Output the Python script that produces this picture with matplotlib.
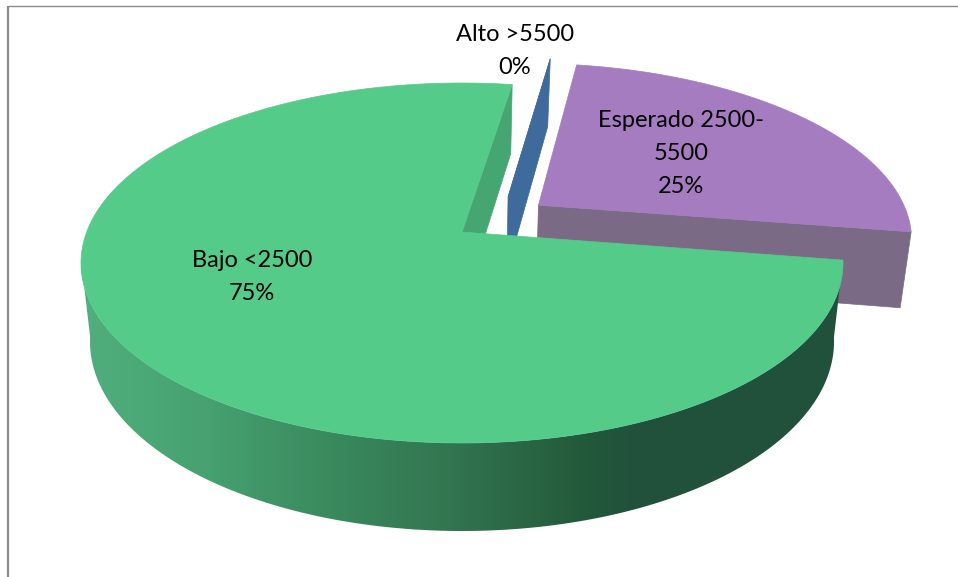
import numpy as np
import matplotlib.pyplot as plt
from matplotlib.colors import LinearSegmentedColormap
from matplotlib.patches import Polygon

labels = ['Bajo <2500', 'Esperado 2500-\n5500', 'Alto >5500']
values = [75, 25, 0]
top_colors = ['#55CB8A', '#A47CBF', '#3F6A9C']
wall_colors = ['#46A672', '#7B6A86', '#3F6A9C']

# pie plane seen in perspective: top and bottom ellipse, centre shift
start_angle = 81
top_plane = (462, 263, 381, 180, 0.172)
bottom_plane = (462, 341.5, 372, 189.5, 0.177)
# explode distance and direction per slice, in disk units
explode = [0, 0.262, 0.244]
explode_dir = [0, 37, 58.6]
label_pos = [(252, 277), (681, 153.5), (515, 51)]


def project(x, y, plane):
    cx, cy, rx, ry, e = plane
    d = 1 + e * y
    return cx + rx * x * np.sqrt(1 - e ** 2) / d, cy - ry * (y + e) / d


def slice_disk(a0, a1, off, n=400):
    t = np.radians(np.linspace(a0, a1, n))
    x = np.concatenate([[0], np.cos(t)]) + off[0]
    y = np.concatenate([[0], np.sin(t)]) + off[1]
    return x, y


fig = plt.figure(figsize=(9.58, 5.77), dpi=100)
ax = fig.add_axes([0, 0, 1, 1])
ax.axis('off')

# chart frame, only left and top show
ax.plot([8, 8], [577, 5.5], color='#8A8A8A', lw=1.6, solid_capstyle='butt')
ax.plot([8, 958], [5.5, 5.5], color='#8A8A8A', lw=1.0, solid_capstyle='butt')

side_cmap = LinearSegmentedColormap.from_list(
    'side', [(0, '#4FAE7C'), (0.154, '#47A171'), (0.32, '#3A8A5E'),
             (0.49, '#32744F'), (0.66, '#235A3B'), (0.725, '#21513A'), (1, '#21513A')])

# angles of each slice, counter clockwise from the start angle
angles = []
a = start_angle
for v in values:
    angles.append((a, a + v * 3.6))
    a += v * 3.6

offsets = []
for m, d in zip(explode, explode_dir):
    offsets.append((m * np.cos(np.radians(d)), m * np.sin(np.radians(d))))

# draw back to front: esperado, alto, bajo
for i in [1, 2, 0]:
    a0, a1 = angles[i]
    off = offsets[i]
    x, y = slice_disk(a0, a1, off)
    # the wall along the first radial edge
    ex = np.array([0, np.cos(np.radians(a0))]) + off[0]
    ey = np.array([0, np.sin(np.radians(a0))]) + off[1]
    tx, ty = project(ex, ey, top_plane)
    bx, by = project(ex, ey, bottom_plane)
    wall = np.column_stack([[tx[0], tx[1], bx[1], bx[0]], [ty[0], ty[1], by[1], by[0]]])
    ax.add_patch(Polygon(wall, closed=True, fc=wall_colors[i], ec=wall_colors[i], lw=0.5))

    if i == 0:
        # outer wall, horizontal gradient clipped to the wall outline
        # it starts at the leftmost point of the ellipse, where the tangent is
        t = np.radians(np.linspace(a0, a1, 900))
        t = t[np.sin(t) < -0.15]
        ox, oy = np.cos(t), np.sin(t)
        tx, ty = project(ox, oy, top_plane)
        bx, by = project(ox, oy, bottom_plane)
        outline = np.column_stack([np.concatenate([tx, bx[::-1]]), np.concatenate([ty, by[::-1]])])
        clip = Polygon(outline, closed=True, fc='none', ec='none')
        ax.add_patch(clip)
        grad = np.clip((np.arange(70, 850) - 90) / 745, 0, 1).reshape(1, -1)
        im = ax.imshow(grad, cmap=side_cmap, vmin=0, vmax=1, extent=(70, 850, 577, 100),
                       aspect='auto', zorder=1)
        im.set_clip_path(clip)

    px, py = project(x, y, top_plane)
    ax.add_patch(Polygon(np.column_stack([px, py]), closed=True,
                         fc=top_colors[i], ec=top_colors[i], lw=0.5, zorder=2))

ax.set_xlim(0, 958)
ax.set_ylim(577, 0)

for lab, v, pos in zip(labels, values, label_pos):
    ax.text(pos[0], pos[1], f'{lab}\n{v}%', ha='center', va='center',
            family='Lato', fontsize=17, color='black', linespacing=1.72, zorder=3)

fig.savefig('out.png', dpi=100)
